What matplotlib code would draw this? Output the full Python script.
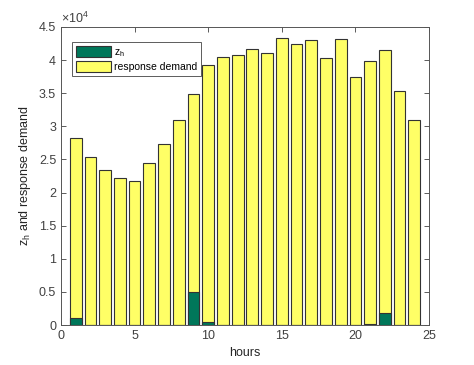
import matplotlib
matplotlib.use("Agg")
import matplotlib.pyplot as plt
from matplotlib.ticker import FuncFormatter, MultipleLocator

plt.rcParams['font.family'] = ['Liberation Sans', 'DejaVu Sans']
plt.rcParams['mathtext.fontset'] = 'custom'
plt.rcParams['mathtext.rm'] = 'Liberation Sans'

hours = list(range(1, 25))
response_demand = [28200, 25400, 23450, 22200, 21800, 24400, 27350, 31000,
                   34850, 39250, 40500, 40750, 41750, 41000, 43300, 42450,
                   43050, 40250, 43150, 37400, 39850, 41550, 35400, 30950]
z_h = [1000, 0, 0, 0, 0, 0, 0, 0, 5000, 500, 0, 0, 0, 0, 0, 0,
       0, 0, 0, 0, 150, 1850, 0, 0]

fig = plt.figure(figsize=(4.74, 3.65), dpi=100)
ax = fig.add_axes([61/474, 40/365, 368/474, 298/365])

edge = '#333333'
ax.bar(hours, response_demand, width=0.8, color='#ffff66', edgecolor=edge,
       linewidth=0.8, label='response demand', zorder=2)
ax.bar(hours, z_h, width=0.8, color='#00775a', edgecolor=edge,
       linewidth=0.8, label=r'$\mathregular{z_h}$', zorder=3)

ax.set_xlim(0, 25)
ax.set_ylim(0, 45000)
ax.xaxis.set_major_locator(MultipleLocator(5))
ax.yaxis.set_major_locator(MultipleLocator(5000))
ax.yaxis.set_major_formatter(FuncFormatter(lambda v, p: '%g' % (v / 1e4)))

gray = '#404040'
ax.tick_params(direction='in', top=True, right=True, length=3.5, width=0.6,
               colors=gray, labelsize=9, labelcolor=gray)
for s in ax.spines.values():
    s.set_color('#555555')
    s.set_linewidth(0.7)
ax.text(0.0, 1.005, r'$\mathregular{\times 10^4}$', transform=ax.transAxes,
        ha='left', va='bottom', fontsize=9, color=gray)

ax.set_xlabel('hours', fontsize=9, color='#262626', labelpad=4)
ax.set_ylabel(r'$\mathregular{z_h}$ and response demand', fontsize=9,
              color='#262626', labelpad=4)

handles, labels = ax.get_legend_handles_labels()
leg = ax.legend(handles[::-1], labels[::-1], loc='upper left',
                bbox_to_anchor=(0.03, 0.95), fontsize=7.5, frameon=True,
                fancybox=False, edgecolor='#333333', handlelength=3.4,
                handleheight=1.35, borderpad=0.35, labelspacing=0.2,
                handletextpad=0.3, borderaxespad=0.0)
leg.get_frame().set_linewidth(0.7)

fig.savefig('out.png', dpi=100)
